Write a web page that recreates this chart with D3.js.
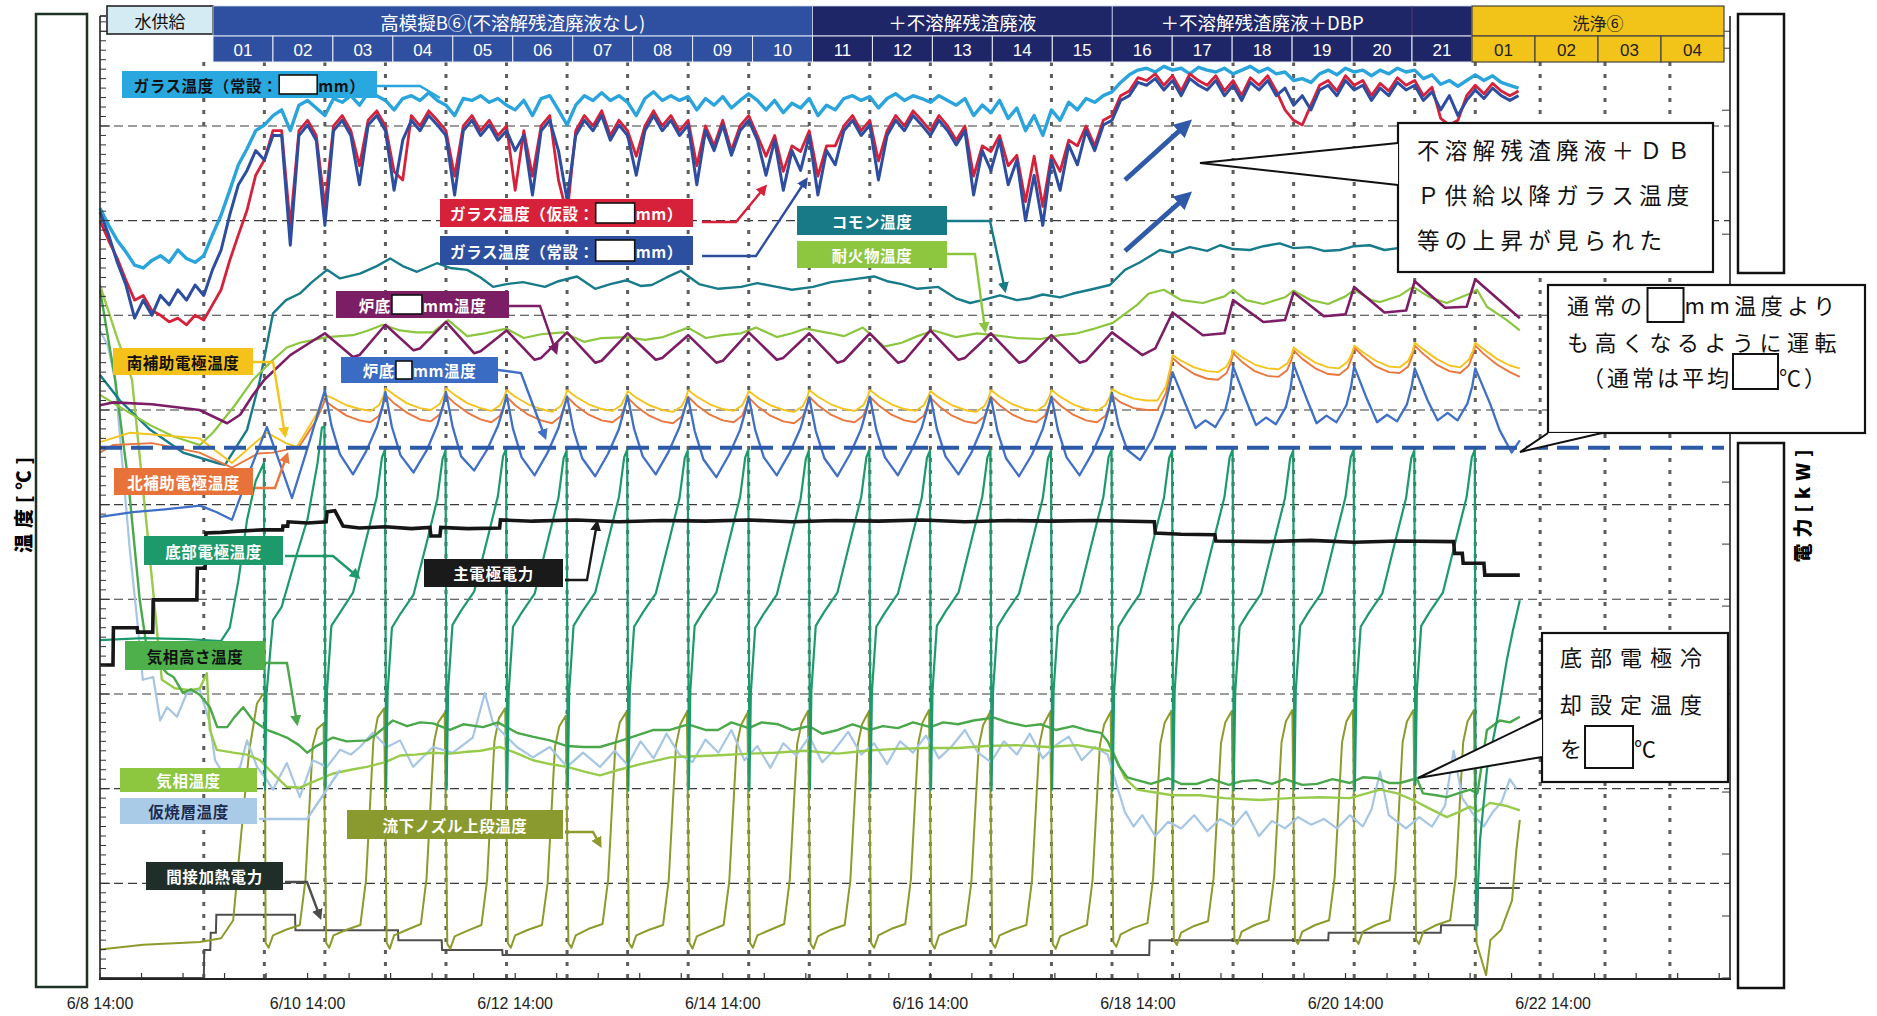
<!DOCTYPE html>
<html><head><meta charset="utf-8">
<script src="https://cdn.jsdelivr.net/npm/d3@7"></script>
<style>
html,body{margin:0;padding:0;background:#fff;overflow:hidden;}
svg{display:block;font-family:"Noto Sans CJK JP","Noto Sans",sans-serif;}
</style></head><body>
<svg id="c" width="1877" height="1016"></svg>
<script>
// ---------------- DATA (hours from 6/8 14:00; temperatures in ℃ units of the left axis, power in kW) ----------------
const glassStepHours = 2;
const glassLightBlue = [813,795,779,767,753,750,758,763,756,769,760,756,763,785,806,832,859,876,895,901,
911,917,895,922,927,919,911,929,925,932,922,935,932,927,917,929,932,927,935,927,
922,911,929,927,932,925,929,922,917,927,911,929,932,917,901,922,932,927,935,927,
932,925,911,929,936,927,932,927,931,917,929,922,931,919,927,934,927,917,927,914,
924,919,929,911,922,917,929,932,927,931,919,929,934,927,932,929,925,932,927,922,
929,911,922,914,927,908,919,895,911,890,917,906,925,917,929,925,932,936,946,954,
959,961,957,963,959,961,955,962,959,957,961,955,959,963,957,961,955,957,948,950,
946,955,959,954,961,957,959,953,959,955,961,957,959,950,954,944,948,942,948,954,
948,953,946,943,940];
const glassRed = [800,779,760,737,716,721,705,700,693,697,690,700,695,711,727,758,785,811,848,864,
895,895,794,895,906,890,815,900,911,895,858,906,916,900,852,843,911,900,916,906,
895,847,900,911,895,906,890,900,832,895,847,900,911,843,806,895,911,900,916,890,
906,895,868,900,916,900,911,895,906,858,900,879,906,874,900,911,890,868,890,852,
879,873,895,847,879,879,900,911,895,906,863,895,911,900,916,906,895,911,900,885,
900,847,879,873,890,858,869,820,868,815,869,852,885,879,900,879,906,911,932,937,
951,948,955,943,953,937,955,948,943,953,937,948,932,951,943,953,937,917,906,901,
922,943,948,937,953,943,948,932,945,937,951,943,948,932,941,908,901,906,932,943,
934,945,937,932,937];
const glassDarkBlue = [809,785,756,732,697,716,700,721,711,727,716,732,721,748,769,806,838,853,874,864,
890,890,774,890,901,885,795,895,906,890,838,901,911,895,832,885,906,895,911,901,
890,827,895,906,890,901,885,895,874,890,827,895,906,874,822,890,906,895,911,885,
901,890,848,895,911,895,906,890,901,838,895,874,901,869,895,906,885,848,885,832,
874,853,890,827,874,859,895,906,890,901,843,890,906,895,911,901,890,906,895,880,
895,827,874,853,885,838,864,800,848,795,864,832,880,859,895,874,901,906,927,932,
946,943,950,938,948,932,950,943,938,948,932,943,927,946,938,948,932,940,922,932,
917,938,943,932,948,938,943,927,940,932,946,938,943,927,936,917,932,911,927,938,
929,940,932,927,932];

const commonTemp = [[0,637],[4.6,610],[11.6,579],[19.2,555],[27.1,544],[28.9,542],[34,579],[37,632],[40,702],[43,716],[46.2,723],[49,735],[52.5,748],[55.5,739],[60.1,744],[64,752],[67.1,760],[70,752],[73.3,746],[77.9,755],[81,750],[84.9,748],[88,740],[90.9,730],[94,733],[97.8,735],[102.9,730],[106,736],[110.3,741],[114.5,728],[118,733],[121.8,737],[125,731],[127.6,732],[131,740],[134.3,747],[138.5,733],[143,728],[148.2,730],[152,734],[156.5,730],[160,727],[164.9,730],[169,735],[174,738],[179,741],[182,736],[185.4,733],[189,728],[193.8,730],[197.9,718],[201.2,713],[204,716],[208.1,721],[212,716],[215,718],[218,722],[222,719],[225,723],[228.9,727],[233.5,732],[237,748],[240.5,756],[245.1,769],[248,766],[252,772],[256,768],[259,774],[262,770],[265.9,769],[269,773],[272.8,776],[276,771],[279.8,772],[283,768],[286.7,769],[290,773],[293.6,774],[297,769],[300.1,771],[310,770],[320,772],[328.3,770]];

const refractoryTemp = [[0,616],[5,602],[11.6,584],[17,572],[23.1,563],[26.1,576],[31.2,605],[35.4,632],[40,653],[43.2,666],[46.2,671],[52.5,677],[58.5,679],[62,684],[65.4,690],[69.4,684],[73,682],[77,682],[80.5,695],[84.9,678],[89,681],[93.9,686],[98,676],[102,680],[107,682],[111.9,672],[116,676],[121.8,677],[126,674],[130.2,677],[136,687],[140.1,676],[144,679],[148.2,681],[151.7,687],[156.5,677],[160,681],[163.2,686],[169,681],[172,678],[176.4,687],[181.3,667],[185.4,671],[189,678],[192.8,684],[197.9,677],[202.8,681],[206.7,679],[212,676],[217.6,675],[222,679],[225.9,681],[230,686],[234.2,692],[239.8,711],[242.5,723],[246,727],[250,716],[255,713],[260,720],[262,727],[265,716],[269,712],[274,719],[276,726],[280,716],[284,712],[288,720],[290,727],[294,716],[296,714],[300.6,721],[303.6,730],[307.5,719],[311.4,713],[316.8,723],[318.4,727],[320.7,709],[325.3,695],[328.3,684]];

const hearthTempA = [[0,605],[3,608],[12,606],[23,600],[29.4,586],[32.4,595],[35.4,616],[38,632],[44,658],[48.5,671],[52,681],[58.5,656],[60,658],[66,690],[72.5,663],[74,665],[80,693],[86.5,660],[88,662],[94,684],[100.5,653],[102,655],[108,682],[114.5,650],[116,652],[122,681],[128.5,653],[130,655],[136,679],[142.5,650],[144,652],[150,682],[156.5,653],[158,655],[164,681],[170.5,650],[172,652],[178,681],[184.5,650],[186,652],[192,684],[198.5,653],[200,655],[206,681],[212.5,650],[214,652],[220,679],[226.5,650],[228,652],[234,682],[241,658],[244,665],[248,703],[255,679],[260,681],[262,716],[269,693],[274,695],[276,724],[283,699],[288,701],[290,730],[297,703],[302,705],[304,736],[311,708],[316,709],[318,738],[328.3,697]];

const hearthTempB = [[0,487],[7.6,492],[15,495],[23.1,499],[27,492],[30.5,484],[35,540],[38.6,582],[41.5,545],[44.4,507],[48,560],
[52,621],[53.5,584],[55.5,553],[58.5,532],[61.5,556],[64,582],[65.3,603],
[66,619],[67.5,582],[69.5,552],[72.5,534],[75.5,557],[78,584],[79.3,604],
[80,619],[81.5,583],[83.5,551],[86.5,536],[89.5,558],[92,583],[93.3,602],
[94,616],[95.5,580],[97.5,550],[100.5,531],[103.5,555],[106,581],[107.3,603],
[108,614],[109.5,579],[111.5,549],[114.5,530],[117.5,554],[120,580],[121.3,602],
[122,615],[123.5,580],[125.5,551],[128.5,532],[131.5,556],[134,582],[135.3,603],
[136,613],[137.5,578],[139.5,548],[142.5,529],[145.5,553],[148,579],[149.3,600],
[150,614],[151.5,579],[153.5,550],[156.5,531],[159.5,555],[162,581],[163.3,602],
[164,613],[165.5,578],[167.5,549],[170.5,530],[173.5,554],[176,580],[177.3,601],
[178,614],[179.5,579],[181.5,550],[184.5,531],[187.5,556],[190,581],[191.3,602],
[192,615],[193.5,580],[195.5,551],[198.5,532],[201.5,555],[204,582],[205.3,603],
[206,613],[207.5,578],[209.5,549],[212.5,530],[215.5,553],[218,580],[219.3,601],
[220,614],[221.5,579],[223.5,550],[226.5,531],[229.5,555],[232,581],[233.3,602],
[234,618],[235.5,584],[237.5,558],[240.5,547],[243.5,570],[246,600],[247.3,625],
[248,640],[251,606],[253.3,581],[255.6,589],[257.9,582],[260.2,600],[261.3,620],
[262,646],[265,610],[267.3,584],[269.6,592],[271.9,585],[274.2,603],[275.3,623],
[276,648],[279,612],[281.3,586],[283.6,594],[285.9,587],[288.2,605],[289.3,625],
[290,646],[293,611],[295.3,587],[297.6,595],[299.9,588],[302.2,606],[303.3,625],
[304,644],[307,610],[309.3,589],[311.6,597],[313.9,589],[316.2,607],[317.3,625],
[318,644],[321.4,607],[323.6,579],[326.4,555],[328.3,568]];

const southAuxTemp = [[0,566],[7,576],[15,573],[23,570],[30.5,544],[35,562],[38.6,576],[43,565],[45.5,561],[50,595],
[52,616],[54,612],[57,605],[60,601],[62.5,599],[64.5,605],[65.5,614],
[66,623],[68,616],[71,607],[74,602],[76.5,600],[78.5,606],[79.5,615],
[80,623],[82,616],[85,607],[88,602],[90.5,599],[92.5,605],[93.5,614],
[94,621],[96,614],[99,606],[102,601],[104.5,598],[106.5,604],[107.5,613],
[108,621],[110,614],[113,606],[116,601],[118.5,599],[120.5,605],[121.5,614],
[122,620],[124,613],[127,605],[130,600],[132.5,598],[134.5,604],[135.5,613],
[136,621],[138,614],[141,606],[144,601],[146.5,599],[148.5,605],[149.5,614],
[150,620],[152,613],[155,605],[158,600],[160.5,598],[162.5,604],[163.5,613],
[164,621],[166,614],[169,606],[172,601],[174.5,599],[176.5,605],[177.5,614],
[178,621],[180,614],[183,606],[186,601],[188.5,599],[190.5,605],[191.5,614],
[192,620],[194,613],[197,605],[200,600],[202.5,598],[204.5,604],[205.5,613],
[206,621],[208,614],[211,606],[214,601],[216.5,599],[218.5,605],[219.5,614],
[220,621],[222,614],[225,606],[228,601],[230.5,599],[232.5,605],[233.5,614],
[234,622],[236,617],[239,612],[242,610],[244.5,610],[246.5,625],[247.5,645],
[248,658],[250,652],[253,645],[256,641],[258.5,640],[260.5,646],[261.5,655],
[262,663],[264,656],[267,648],[270,644],[272.5,643],[274.5,649],[275.5,658],
[276,666],[278,659],[281,650],[284,645],[286.5,644],[288.5,651],[289.5,660],
[290,668],[292,661],[295,652],[298,646],[300.5,645],[302.5,652],[303.5,662],
[304,671],[306,664],[309,654],[312,647],[314.5,645],[316.5,653],[317.5,663],
[318,671],[320,664],[323,654],[326,647],[328.3,644]];

const northAuxTemp = [[0,555],[3,563],[12,565],[23,555],[30.5,539],[36.5,554],[40,555],[46,561],[50,589],
[52,610],[54,603],[57,594],[60,589],[62.5,587],[64.5,594],[65.5,606],
[66,616],[68,607],[71,597],[74,590],[76.5,588],[78.5,595],[79.5,607],
[80,616],[82,607],[85,597],[88,590],[90.5,587],[92.5,594],[93.5,606],
[94,614],[96,605],[99,595],[102,589],[104.5,586],[106.5,593],[107.5,605],
[108,614],[110,605],[113,595],[116,589],[118.5,587],[120.5,594],[121.5,606],
[122,613],[124,604],[127,594],[130,588],[132.5,586],[134.5,593],[135.5,605],
[136,614],[138,605],[141,595],[144,589],[146.5,587],[148.5,594],[149.5,606],
[150,613],[152,604],[155,594],[158,588],[160.5,586],[162.5,593],[163.5,605],
[164,614],[166,605],[169,595],[172,589],[174.5,587],[176.5,594],[177.5,606],
[178,614],[180,605],[183,595],[186,589],[188.5,587],[190.5,594],[191.5,606],
[192,613],[194,604],[197,594],[200,588],[202.5,586],[204.5,593],[205.5,605],
[206,614],[208,605],[211,595],[214,589],[216.5,587],[218.5,594],[219.5,606],
[220,614],[222,605],[225,595],[228,589],[230.5,587],[232.5,594],[233.5,606],
[234,615],[236,608],[239,602],[242,600],[244.5,600],[246.5,618],[247.5,640],
[248,655],[250,647],[253,638],[256,633],[258.5,632],[260.5,639],[261.5,650],
[262,660],[264,651],[267,641],[270,636],[272.5,635],[274.5,642],[275.5,653],
[276,663],[278,654],[281,644],[284,638],[286.5,637],[288.5,644],[289.5,656],
[290,666],[292,657],[295,646],[298,640],[300.5,639],[302.5,646],[303.5,658],
[304,668],[306,659],[309,648],[312,641],[314.5,639],[316.5,647],[317.5,659],
[318,668],[320,659],[323,648],[326,640],[328.3,635]];

const bottomElecTemp = [[0,357],[10,359],[20,358],[28,356],[30,370],[32,420],[34,484],[36,525],[37.9,544],
[38.15,199],[38.5,300],[40,378],[42,392],[45.6,449],[48,485],[50.3,544],[51.3,581],[51.9,583],
[52.15,199],[52.5,304],[53.5,372],[55.5,386],[58.5,407],[61.7,466],[64,508],[65.2,550],[65.9,558],
[66.15,197],[66.5,302],[67.5,370],[69.5,385],[72.5,405],[75.7,463],[78,506],[79.2,548],[79.9,557],
[80.15,199],[80.5,305],[81.5,373],[83.5,388],[86.5,408],[89.7,466],[92,509],[93.2,551],[93.9,559],
[94.15,198],[94.5,303],[95.5,371],[97.5,386],[100.5,406],[103.7,465],[106,507],[107.2,549],[107.9,557],
[108.15,199],[108.5,304],[109.5,372],[111.5,387],[114.5,407],[117.7,466],[120,508],[121.2,550],[121.9,558],
[122.15,198],[122.5,303],[123.5,371],[125.5,386],[128.5,406],[131.7,464],[134,507],[135.2,549],[135.9,557],
[136.15,199],[136.5,304],[137.5,372],[139.5,387],[142.5,407],[145.7,466],[148,508],[149.2,550],[149.9,558],
[150.15,198],[150.5,302],[151.5,370],[153.5,385],[156.5,405],[159.7,464],[162,506],[163.2,548],[163.9,557],
[164.15,199],[164.5,304],[165.5,372],[167.5,387],[170.5,407],[173.7,466],[176,508],[177.2,550],[177.9,558],
[178.15,198],[178.5,303],[179.5,371],[181.5,386],[184.5,406],[187.7,465],[190,507],[191.2,549],[191.9,557],
[192.15,199],[192.5,304],[193.5,372],[195.5,387],[198.5,407],[201.7,466],[204,508],[205.2,550],[205.9,558],
[206.15,198],[206.5,303],[207.5,371],[209.5,386],[212.5,406],[215.7,464],[218,507],[219.2,549],[219.9,557],
[220.15,199],[220.5,304],[221.5,372],[223.5,387],[226.5,407],[229.7,466],[232,508],[233.2,550],[233.9,558],
[234.15,198],[234.5,303],[235.5,371],[237.5,386],[240.5,406],[243.7,465],[246,507],[247.2,549],[247.9,557],
[248.15,199],[248.5,304],[249.5,372],[251.5,387],[254.5,407],[257.7,466],[260,508],[261.2,550],[261.9,558],
[262.15,198],[262.5,303],[263.5,371],[265.5,386],[268.5,406],[271.7,465],[274,507],[275.2,549],[275.9,557],
[276.15,199],[276.5,304],[277.5,372],[279.5,387],[282.5,407],[285.7,466],[288,508],[289.2,550],[289.9,558],
[290.15,198],[290.5,303],[291.5,371],[293.5,386],[296.5,406],[299.7,465],[302,507],[303.2,549],[303.9,557],
[304.15,205],[304.5,304],[305.5,372],[307.5,387],[310.5,407],[313.7,466],[316,508],[317.2,550],[317.9,558],
[318.15,51],[319.1,146],[320.7,220],[323,272],[325.3,336],[326.7,367],[328.3,399]];

const gasHeightTemp = [[0,727],[3.5,632],[6.5,526],[9.2,399],[10.9,346],[13,335],[15.5,322],[17,318],[19.2,301],[21,305],[23.1,299],[25.4,286],[27.1,265],[29.4,265],[31,275],[33.1,286],[35.4,272],[38.6,262],[41,258],[43.2,254],[46,246],[47.9,238],[50,245],[53.9,254],[57,250],[61.7,251],[64,258],[67.7,272],[71,266],[74,270],[77,269],[80.9,262],[84,268],[88.6,265],[92,270],[96.4,259],[100,255],[104,251],[108,245],[111.7,244],[115.6,244],[120,250],[124,256],[128,262],[131.8,262],[136,268],[140,262],[142.9,262],[146,270],[150,264],[153,270],[156.8,268],[160,262],[164,266],[167,258],[170.6,262],[174,268],[178,262],[181,266],[184.5,264],[188,270],[192,265],[195,270],[198.4,268],[202,272],[206.7,275],[210,270],[214,266],[217.6,268],[221,262],[225,266],[228,262],[231.4,259],[233,250],[235.6,224],[237.5,212],[239.8,209],[243,205],[247,211],[250,205],[253.6,205],[257,210],[261,204],[264,208],[267.5,209],[271,205],[274,210],[278,204],[281.4,205],[285,210],[289,206],[292,212],[295.3,211],[298,206],[300.6,206],[304.5,211],[305.9,195],[309,193],[311.4,191],[314,195],[316.8,199],[318.5,195],[320.7,262],[323.7,272],[326,270],[328.3,276]];

const gasTemp = [[0,732],[3.9,677],[7.4,632],[10.9,473],[14.3,315],[17.3,306],[20.8,304],[23.1,306],[24.7,322],[25.4,262],[27,241],[30.8,238],[34,236],[37,230],[40,216],[43.2,202],[46.2,201],[50.2,209],[53.9,216],[58,220],[61.7,223],[66,228],[69.4,235],[73,236],[77,238],[81,237],[84.9,239],[88,240],[92.5,244],[96,238],[100.1,230],[104,226],[108,223],[112,218],[115.6,214],[120,220],[125,226],[131.8,233],[136,234],[142,235],[150.3,237],[156,238],[163,240],[170.6,237],[177,240],[184,242],[191,243],[198.4,243],[205,245],[212,246],[219,244],[225.9,246],[230,243],[234.2,239],[237,211],[239.8,199],[244,196],[248,193],[254.3,193],[260,190],[268.2,188],[275,190],[282.1,191],[289,190],[296,199],[300,195],[303.6,188],[307,180],[311.4,170],[314,175],[316.8,181],[318.6,176],[321.4,185],[325,182],[328.3,177]];

const calcinedLayerTemp = [[0,684],[1.8,668],[3.5,632],[5.1,547],[6.9,452],[8.6,378],[9.9,315],[12.3,318],[13.9,272],[15.5,286],[17.8,276],[20.1,301],[23.1,304],[25.4,269],[26.6,230],[29.4,209],[32.4,223],[34,251],[36.3,223],[38.6,209],[40,199],[43.2,227],[46.2,191],[49.2,230],[52.5,223],[55.5,241],[58,236],[60.1,244],[63.1,259],[66.4,244],[69.4,251],[72.4,223],[77,244],[81.6,238],[86.2,254],[89,301],[90.9,269],[96.4,244],[100.1,233],[104,244],[108,223],[111.7,238],[115.6,223],[119,240],[122,225],[125,250],[128,232],[131,258],[134,236],[137,228],[140,252],[143,238],[146,262],[149,230],[152,245],[155,222],[158,248],[161,235],[164,255],[167,228],[170,242],[173,260],[176,236],[179,248],[182,226],[185,250],[188,238],[191,256],[194,232],[197,245],[200,262],[203,238],[206,228],[209,250],[212,236],[215,258],[218,232],[221,246],[224,255],[227,230],[230,244],[233,236],[235,205],[237,175],[239,160],[241,172],[244,150],[247,165],[250,158],[253,172],[256,155],[259,168],[262,160],[265,176],[268,150],[271,166],[274,158],[277,170],[280,162],[283,168],[286,158],[289,172],[292,160],[294,178],[296,218],[298,172],[300,165],[302,158],[305,170],[308,160],[311,182],[313,240],[315,190],[318,170],[320,160],[322,175],[324,185],[326,210],[327.5,200]];

const nozzleTemp = [[0,30],[10,35],[23.1,38],[28,42],[30.8,61],[32.5,145],[34.5,240],[36.3,290],[37.7,300],[38.1,298],
[38.3,37],[39,32],[40,45],[43,51],[46.2,56],[47.5,103],[48.5,188],[49.2,246],[50.2,263],[51.7,269],
[52.3,37],[53,32],[54,45],[57,51],[60.2,56],[61.5,103],[62.5,188],[63.2,250],[64.2,275],[65.7,285],
[66.3,37],[67,31],[68,45],[71,51],[74.2,57],[75.5,105],[76.5,190],[77.2,248],[78.2,270],[79.7,280],
[80.3,36],[81,31],[82,44],[85,50],[88.2,56],[89.5,103],[90.5,190],[91.2,250],[92.2,274],[93.7,285],
[94.3,37],[95,32],[96,45],[99,51],[102.2,56],[103.5,100],[104.5,185],[105.2,244],[106.2,266],[107.7,277],
[108.3,37],[109,32],[110,45],[113,52],[116.2,57],[117.5,104],[118.5,190],[119.2,248],[120.2,270],[121.7,281],
[122.3,37],[123,32],[124,45],[127,51],[130.2,56],[131.5,103],[132.5,188],[133.2,246],[134.2,268],[135.7,281],
[136.3,37],[137,31],[138,44],[141,50],[144.2,56],[145.5,102],[146.5,186],[147.2,245],[148.2,267],[149.7,280],
[150.3,37],[151,32],[152,45],[155,51],[158.2,57],[159.5,104],[160.5,189],[161.2,247],[162.2,269],[163.7,282],
[164.3,36],[165,31],[166,44],[169,51],[172.2,56],[173.5,103],[174.5,188],[175.2,246],[176.2,268],[177.7,281],
[178.3,37],[179,32],[180,45],[183,52],[186.2,57],[187.5,104],[188.5,190],[189.2,248],[190.2,270],[191.7,283],
[192.3,37],[193,31],[194,45],[197,51],[200.2,56],[201.5,102],[202.5,187],[203.2,245],[204.2,267],[205.7,280],
[206.3,37],[207,32],[208,45],[211,51],[214.2,56],[215.5,103],[216.5,188],[217.2,246],[218.2,268],[219.7,281],
[220.3,36],[221,31],[222,44],[225,50],[228.2,56],[229.5,103],[230.5,188],[231.2,246],[232.2,268],[233.7,281],
[234.3,38],[235,33],[236,46],[239,53],[242.2,58],[243.5,105],[244.5,190],[245.2,248],[246.2,270],[247.7,282],
[248.3,40],[249,35],[250,48],[253,55],[256.2,60],[257.5,106],[258.5,190],[259.2,248],[260.2,270],[261.7,282],
[262.3,41],[263,36],[264,49],[267,56],[270.2,61],[271.5,107],[272.5,191],[273.2,249],[274.2,271],[275.7,283],
[276.3,41],[277,36],[278,49],[281,56],[284.2,61],[285.5,107],[286.5,191],[287.2,249],[288.2,271],[289.7,283],
[290.3,41],[291,36],[292,49],[295,56],[298.2,61],[299.5,107],[300.5,191],[301.2,249],[302.2,271],[303.7,283],
[304.3,41],[305,36],[306,49],[309,56],[312.2,61],[313.5,107],[314.5,191],[315.2,249],[316.2,271],[317.7,283],
[318.3,37],[320.5,3],[321.5,40],[324,51],[326.5,82],[327.5,135],[328.3,167]];

const mainElecPower = [[0,50.5],[3,50.5],[3.1,56.5],[8.6,56.5],[8.7,55.8],[12.2,55.8],[12.3,61],[22.4,61],[22.5,66.1],[24.3,66.1],[24.5,71.8],[28,71.9],[32,72.1],[37.7,72.3],[42.2,72.3],[42.3,72.9],[43.4,72.9],[43.5,73.6],[48,73.4],[52.3,73.6],[52.5,75.2],[54.3,75.4],[56.2,72.9],[60,72.6],[66,72.8],[72,72.5],[76.3,72.7],[76.5,71.3],[78.6,71.3],[78.8,72.7],[85,72.5],[92.4,72.6],[92.6,73.9],[100,73.7],[110,73.9],[120,73.6],[130,73.8],[140,73.7],[150,73.9],[160,73.6],[170,73.8],[180,73.7],[190,73.9],[200,73.6],[210,73.8],[220,73.7],[230,73.8],[243.8,73.6],[244,71.8],[250,71.6],[257.8,71.5],[258,70.5],[270,70.4],[280,70.6],[290,70.3],[300,70.5],[313,70.4],[313.2,68.5],[315,68.5],[315.2,66.9],[320,66.9],[320.2,65],[328.3,65]];

const indirectHeatPower = [[0,0],[24,0],[24.1,4.5],[25.5,4.5],[25.6,7.3],[26.8,7.3],[26.9,10.2],[45.1,10.2],[45.2,7.7],[68.9,7.7],[69,6.1],[79,6.1],[79.1,4.5],[93,4.5],[93.1,3.7],[242.6,3.7],[242.7,6.1],[284,6.1],[284.1,7.3],[310,7.3],[310.1,8.5],[318.5,8.5],[318.6,14.5],[328.3,14.5]];

const refLineTemp = 560;                       // blue dashed reference level
const batchHours = [24,38,52,66,80,94,108,122,136,150,164,178,192,206,220,234,248,262,276,290,304,318];
const washHours = [333,348,363];
const xLabelHours = [0,48,96,144,192,240,288,336];
const xTickLabels = ["6/8 14:00","6/10 14:00","6/12 14:00","6/14 14:00","6/16 14:00","6/18 14:00","6/20 14:00","6/22 14:00"];
const headerRow2 = ["01","02","03","04","05","06","07","08","09","10","11","12","13","14","15","16","17","18","19","20","21"];
const washRow2 = ["01","02","03","04"];

// ---------------- SCALES ----------------
const svg = d3.select("#c");
const T0 = Date.UTC(2023,5,8,14);
const t = h => new Date(T0 + h*3600e3);
const x = d3.scaleUtc().domain([t(0), t(376.9)]).range([100,1730]);
const yT = d3.scaleLinear().domain([0,1000]).range([978,31.3]);
const yP = d3.scaleLinear().domain([0,155.2]).range([978,16]);
const lineT = d3.line().x(d=>x(t(d[0]))).y(d=>yT(d[1]));
const lineP = d3.line().x(d=>x(t(d[0]))).y(d=>yP(d[1]));

// ---------------- GRID ----------------
const g = svg.append("g");
g.selectAll("line.hg").data(d3.range(100,1001,100)).join("line")
  .attr("x1",100).attr("x2",1730).attr("y1",d=>yT(d)).attr("y2",d=>yT(d))
  .attr("stroke","#3a3a3a").attr("stroke-width",1.1).attr("stroke-dasharray","9,5");
g.selectAll("line.vb").data(batchHours.concat(washHours)).join("line")
  .attr("x1",d=>x(t(d))).attr("x2",d=>x(t(d))).attr("y1",62).attr("y2",978)
  .attr("stroke","#5c5c5c").attr("stroke-width",3).attr("stroke-dasharray","4,8");

// ---------------- SERIES ----------------
function drawT(data, color, w){ svg.append("path").attr("d",lineT(data)).attr("fill","none").attr("stroke",color).attr("stroke-width",w||2).attr("stroke-linejoin","round"); }
function drawP(data, color, w){ svg.append("path").attr("d",lineP(data)).attr("fill","none").attr("stroke",color).attr("stroke-width",w||2); }

drawP(indirectHeatPower, "#4d4d4d", 2);
drawT(nozzleTemp, "#8e9a2b", 2);
drawT(calcinedLayerTemp, "#a6c6e4", 2.2);
drawT(gasTemp, "#98cb4c", 2.4);
drawT(gasHeightTemp, "#4aa84b", 2.4);
drawT(bottomElecTemp, "#1d9a6c", 2.2);
drawP(mainElecPower, "#161616", 3.6);
drawT(commonTemp, "#177b8a", 2.4);
drawT(refractoryTemp, "#8cc63e", 2.2);
drawT(hearthTempA, "#7c1d66", 2.6);
drawT(northAuxTemp, "#e9773e", 1.9);
drawT(southAuxTemp, "#f4c31c", 1.9);
drawT(hearthTempB, "#3f6fc6", 2.3);
svg.append("line").attr("x1",100).attr("x2",1724).attr("y1",yT(refLineTemp)).attr("y2",yT(refLineTemp))
  .attr("stroke","#2d5aa8").attr("stroke-width",4).attr("stroke-dasharray","22,9");
const glassPts = arr => arr.map((v,i)=>[i*glassStepHours, v]);
drawT(glassPts(glassLightBlue), "#2aa4dd", 3.4);
drawT(glassPts(glassRed), "#d6213b", 2.8);
drawT(glassPts(glassDarkBlue), "#2d4ea0", 3);

// ---------------- AXES ----------------
const ax = svg.append("g");
ax.append("line").attr("x1",100).attr("x2",100).attr("y1",16).attr("y2",979).attr("stroke","#222").attr("stroke-width",1.6);
ax.append("line").attr("x1",100).attr("x2",106).attr("y1",16).attr("y2",16).attr("stroke","#222").attr("stroke-width",1.6);
ax.append("line").attr("x1",99).attr("x2",1731).attr("y1",979).attr("y2",979).attr("stroke","#222").attr("stroke-width",2);
ax.append("line").attr("x1",1730).attr("x2",1730).attr("y1",16).attr("y2",979).attr("stroke","#222").attr("stroke-width",1.6);
ax.selectAll("line.lt").data(d3.range(0,1011,10)).join("line")
  .attr("x1",100).attr("x2",d=>d%100===0?110:106).attr("y1",d=>yT(d)).attr("y2",d=>yT(d))
  .attr("stroke","#333").attr("stroke-width",1);
ax.selectAll("line.rt").data(d3.range(0,151,10)).join("line")
  .attr("x1",1730).attr("x2",1722).attr("y1",d=>yP(d)).attr("y2",d=>yP(d))
  .attr("stroke","#333").attr("stroke-width",1);
ax.selectAll("line.bt").data(d3.range(0,377,9.6)).join("line")
  .attr("x1",d=>x(t(d))).attr("x2",d=>x(t(d))).attr("y1",979).attr("y2",973)
  .attr("stroke","#333").attr("stroke-width",1.2);
ax.selectAll("text.xl").data(xLabelHours).join("text")
  .attr("x",d=>x(t(d))).attr("y",1009).attr("text-anchor","middle")
  .attr("font-family","'Liberation Sans Narrow','Liberation Sans',Arial,sans-serif").attr("font-size",16).attr("fill","#222")
  .text((d,i)=>xTickLabels[i]);

// side frames and axis titles
svg.append("rect").attr("x",36).attr("y",14).attr("width",51).attr("height",973).attr("fill","none").attr("stroke","#1c3326").attr("stroke-width",2.5);
svg.append("rect").attr("x",1738).attr("y",14).attr("width",46).attr("height",259).attr("fill","none").attr("stroke","#111").attr("stroke-width",2.5);
svg.append("rect").attr("x",1738).attr("y",443).attr("width",46).attr("height",545).attr("fill","none").attr("stroke","#111").attr("stroke-width",2.5);
svg.append("text").attr("transform","translate(22,502) rotate(-90)").attr("text-anchor","middle").attr("dominant-baseline","central")
  .attr("font-size",19).attr("font-weight","900").attr("letter-spacing",6).text("温度[℃]");
svg.append("text").attr("transform","translate(1801,503) rotate(-90)").attr("text-anchor","middle").attr("dominant-baseline","central")
  .attr("font-size",19).attr("font-weight","900").attr("letter-spacing",6).text("電力[kW]");

// ---------------- MARKERS ----------------
const defs = svg.append("defs");
function marker(id, color, size){
  defs.append("marker").attr("id",id).attr("viewBox","0 0 10 10").attr("refX",7).attr("refY",5)
    .attr("markerWidth",size).attr("markerHeight",size).attr("markerUnits","userSpaceOnUse").attr("orient","auto")
    .append("path").attr("d","M0,0 L10,5 L0,10 z").attr("fill",color);
}

// ---------------- LABELS ----------------
const labels = [
 {parts:["ガラス温度（常設：",{b:38},"mm）"], box:[122,71,255,27], fill:"#29a8e0", color:"#111", leader:[[377,86],[420,86],[440,98]], lc:"#2aa4dd", arrow:false},
 {parts:["ガラス温度（仮設：",{b:39},"mm）"], box:[440,199,253,28], fill:"#d7213b", color:"#fff", leader:[[702,222],[736,222],[765,187]], lc:"#d6213b", arrow:true},
 {parts:["ガラス温度（常設：",{b:39},"mm）"], box:[440,236,253,29], fill:"#2d4fa0", color:"#fff", leader:[[702,256],[756,256],[806,180]], lc:"#2d4ea0", arrow:true},
 {parts:["コモン温度"], box:[797,206,150,29], fill:"#177a86", color:"#fff", leader:[[947,221],[990,221],[1005,290]], lc:"#177b8a", arrow:true},
 {parts:["耐火物温度"], box:[797,241,150,27], fill:"#8dc63f", color:"#fff", leader:[[947,254],[975,254],[985,330]], lc:"#8cc63e", arrow:true},
 {parts:["炉底",{b:30},"mm温度"], box:[336,291,173,27], fill:"#7c1e66", color:"#fff", leader:[[509,306],[540,306],[556,352]], lc:"#7c1d66", arrow:true},
 {parts:["炉底",{b:16},"mm温度"], box:[341,357,157,26], fill:"#3b6cc4", color:"#fff", leader:[[498,370],[521,373],[545,437]], lc:"#3f6fc6", arrow:true},
 {parts:["南補助電極温度"], box:[113,348,140,27], fill:"#f4c21b", color:"#111", leader:[[253,362],[273,362],[285,435]], lc:"#f4c31c", arrow:true},
 {parts:["北補助電極温度"], box:[114,468,139,27], fill:"#e8733a", color:"#fff", leader:[[255,488],[275,488],[287,455]], lc:"#e9773e", arrow:true},
 {parts:["底部電極温度"], box:[144,536,139,29], fill:"#1d9a6c", color:"#fff", leader:[[285,556],[333,556],[358,577]], lc:"#1d9a6c", arrow:true},
 {parts:["主電極電力"], box:[424,559,139,28], fill:"#1a1a1a", color:"#fff", leader:[[565,580],[587,580],[597,523]], lc:"#1a1a1a", arrow:true},
 {parts:["気相高さ温度"], box:[125,641,140,29], fill:"#4db04a", color:"#111", leader:[[265,663],[287,663],[297,723]], lc:"#4aa84b", arrow:true},
 {parts:["気相温度"], box:[120,768,137,24], fill:"#8dc63f", color:"#fff"},
 {parts:["仮焼層温度"], box:[120,798,137,26], fill:"#a9cbe8", color:"#1d2b50", leader:[[259,819],[307,819],[340,770]], lc:"#a6c6e4", arrow:false},
 {parts:["流下ノズル上段温度"], box:[347,810,216,29], fill:"#8b9a2e", color:"#fff", leader:[[565,832],[593,832],[600,845]], lc:"#8e9a2b", arrow:true},
 {parts:["間接加熱電力"], box:[146,862,137,28], fill:"#1f2e28", color:"#fff", leader:[[285,882],[307,882],[320,917]], lc:"#4d4d4d", arrow:true}
];
const measurer = svg.append("text").attr("x",-1000).attr("y",-1000);
function measure(str, size, weight, ls){
  measurer.attr("font-size",size).attr("font-weight",weight).attr("letter-spacing",ls||0).text(str);
  return measurer.node().getComputedTextLength();
}
const lg = svg.append("g");
labels.forEach((L,i)=>{
  if(L.leader){
    const id="m"+i; marker(id, L.lc, 11);
    lg.append("path").attr("d",d3.line()(L.leader)).attr("fill","none").attr("stroke",L.lc).attr("stroke-width",2.4)
      .attr("marker-end", L.arrow?`url(#${id})`:null);
  }
  const [bx,by,bw,bh]=L.box;
  lg.append("rect").attr("x",bx).attr("y",by).attr("width",bw).attr("height",bh).attr("fill",L.fill);
  const fs=15.5, ls=0.6;
  const widths = L.parts.map(p=> typeof p==="string" ? measure(p,fs,"bold",ls) : p.b+2);
  let cx = bx + (bw - d3.sum(widths))/2;
  L.parts.forEach((p,j)=>{
    if(typeof p==="string"){
      lg.append("text").attr("x",cx).attr("y",by+bh/2).attr("dominant-baseline","central")
        .attr("font-size",fs).attr("font-weight","bold").attr("letter-spacing",ls).attr("fill",L.color).text(p);
    } else {
      lg.append("rect").attr("x",cx+1).attr("y",by+4).attr("width",p.b).attr("height",bh-8)
        .attr("fill","#fff").attr("stroke","#111").attr("stroke-width",1.6);
    }
    cx += widths[j];
  });
});
measurer.remove();

// ---------------- CALLOUTS ----------------
const cg = svg.append("g");
marker("mb","#2f5aa8",18);
cg.append("line").attr("x1",1125).attr("y1",180).attr("x2",1188).attr("y2",123).attr("stroke","#2f5aa8").attr("stroke-width",5).attr("marker-end","url(#mb)");
cg.append("line").attr("x1",1125).attr("y1",251).attr("x2",1188).attr("y2",195).attr("stroke","#2f5aa8").attr("stroke-width",5).attr("marker-end","url(#mb)");

function callout(box, tail){
  const [x0,y0,w,h]=box;
  cg.append("rect").attr("x",x0).attr("y",y0).attr("width",w).attr("height",h).attr("fill","#fff").attr("stroke","#111").attr("stroke-width",2.2);
  cg.append("polygon").attr("points",tail.map(p=>p.join(",")).join(" ")).attr("fill","#fff").attr("stroke","none");
  cg.append("path").attr("d",d3.line()(tail)).attr("fill","none").attr("stroke","#111").attr("stroke-width",2);
}
function ctext(xs, ys, parts, fs, ls){
  let cx = xs;
  parts.forEach(p=>{
    if(typeof p==="string"){
      const tx = cg.append("text").attr("x",cx).attr("y",ys).attr("font-size",fs).attr("letter-spacing",ls).attr("fill","#111").text(p);
      cx += tx.node().getComputedTextLength();
    } else {
      cg.append("rect").attr("x",cx+p.pad).attr("y",ys-p.h+p.dy).attr("width",p.w).attr("height",p.h)
        .attr("fill","#fff").attr("stroke","#111").attr("stroke-width",2);
      cx += p.w + p.pad*2;
    }
  });
}
callout([1398,123,315,149], [[1398,143],[1200,163],[1398,185]]);
ctext(1417,159,["不溶解残渣廃液＋ＤＢ"],22.5,5.3);
ctext(1417,204,["Ｐ供給以降ガラス温度"],22.5,5.3);
ctext(1417,249,["等の上昇が見られた"],22.5,5.3);

callout([1548,285,317,148], [[1548,433],[1520,452],[1602,433]]);
ctext(1567,314,["通常の",{w:36,h:34,dy:8,pad:1},"mm温度より"],22,4.5);
ctext(1567,351,["も高くなるように運転"],22,5.5);
ctext(1582,386,["（通常は平均",{w:45,h:35,dy:3,pad:1},"℃）"],22,3);

callout([1542,633,186,149], [[1542,718],[1418,778],[1542,757]]);
ctext(1560,666,["底部電極冷"],22,8);
ctext(1560,713,["却設定温度"],22,8);
ctext(1560,757,["を",{w:48,h:42,dy:11,pad:1},"℃"],22,2);

// ---------------- HEADER ----------------
const hg = svg.append("g");
const hx0=213, hw=59.95, wx0=1472, ww=63, r1y=6, r1h=30, r2y=36, r2h=26;
const mid="#2f50a0", navy="#1e2668", yel="#f2c318";
hg.append("rect").attr("x",107).attr("y",6).attr("width",106).attr("height",28).attr("fill","#d5ebf3").attr("stroke","#222").attr("stroke-width",1.6);
hg.append("text").attr("x",160).attr("y",20).attr("text-anchor","middle").attr("dominant-baseline","central").attr("font-size",17).attr("fill","#111").text("水供給");
const segs=[{txt:"高模擬B⑥(不溶解残渣廃液なし)",a:0,b:10,tb:10,c:mid},{txt:"＋不溶解残渣廃液",a:10,b:15,tb:15,c:navy},{txt:"＋不溶解残渣廃液＋DBP",a:15,b:21,tb:20,c:navy}];
segs.forEach(s=>{
  hg.append("rect").attr("x",hx0+s.a*hw).attr("y",r1y).attr("width",(s.b-s.a)*hw).attr("height",r1h).attr("fill",s.c).attr("stroke","#c9d3ea").attr("stroke-width",0.8);
  hg.append("text").attr("x",hx0+(s.a+s.tb)/2*hw).attr("y",r1y+r1h/2+1).attr("text-anchor","middle").attr("dominant-baseline","central")
    .attr("font-size",18.5).attr("fill","#fff").text(s.txt);
});
hg.append("line").attr("x1",hx0+20*hw).attr("x2",hx0+20*hw).attr("y1",r1y).attr("y2",r1y+r1h).attr("stroke","#6a3a6a").attr("stroke-width",0.8);
headerRow2.forEach((lab,i)=>{
  hg.append("rect").attr("x",hx0+i*hw).attr("y",r2y).attr("width",hw).attr("height",r2h).attr("fill",i<10?mid:navy).attr("stroke","#e8ecf6").attr("stroke-width",1);
  hg.append("text").attr("x",hx0+(i+0.5)*hw).attr("y",r2y+r2h/2+1).attr("text-anchor","middle").attr("dominant-baseline","central")
    .attr("font-family","'Liberation Sans Narrow','Liberation Sans',Arial,sans-serif").attr("font-size",17).attr("fill","#fff").text(lab);
});
hg.append("rect").attr("x",wx0).attr("y",r1y).attr("width",4*ww).attr("height",r1h).attr("fill",yel).attr("stroke","#444").attr("stroke-width",1.2);
hg.append("text").attr("x",wx0+2*ww).attr("y",r1y+r1h/2+1).attr("text-anchor","middle").attr("dominant-baseline","central").attr("font-size",17).attr("fill","#222").text("洗浄⑥");
washRow2.forEach((lab,i)=>{
  hg.append("rect").attr("x",wx0+i*ww).attr("y",r2y).attr("width",ww).attr("height",r2h).attr("fill",yel).attr("stroke","#444").attr("stroke-width",1.2);
  hg.append("text").attr("x",wx0+(i+0.5)*ww).attr("y",r2y+r2h/2+1).attr("text-anchor","middle").attr("dominant-baseline","central")
    .attr("font-family","'Liberation Sans Narrow','Liberation Sans',Arial,sans-serif").attr("font-size",17).attr("fill","#222").text(lab);
});
</script>
</body></html>
